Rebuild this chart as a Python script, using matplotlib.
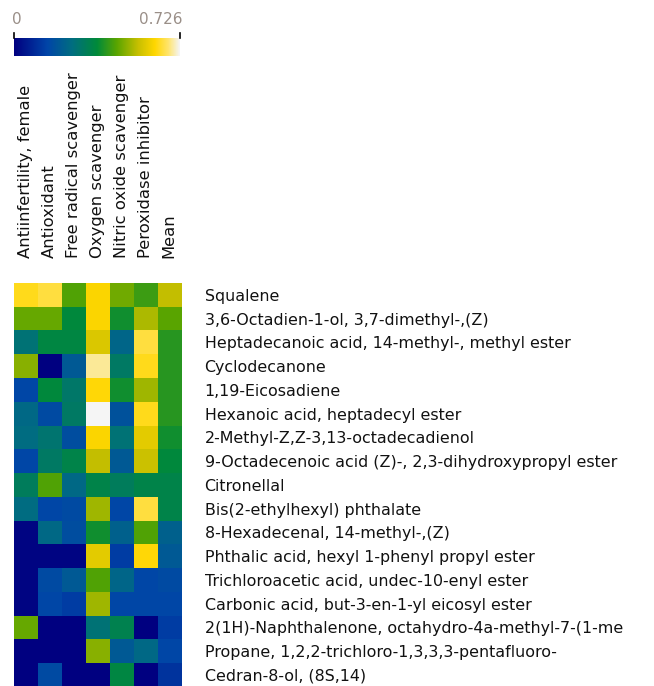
import numpy as np
import matplotlib
matplotlib.use("Agg")
import matplotlib.pyplot as plt
from matplotlib.colors import LinearSegmentedColormap

activities = [
    "Antiinfertility, female",
    "Antioxidant",
    "Free radical scavenger",
    "Oxygen scavenger",
    "Nitric oxide scavenger",
    "Peroxidase inhibitor",
    "Mean",
]

compounds = [
    "Squalene",
    "3,6-Octadien-1-ol, 3,7-dimethyl-,(Z)",
    "Heptadecanoic acid, 14-methyl-, methyl ester",
    "Cyclodecanone",
    "1,19-Eicosadiene",
    "Hexanoic acid, heptadecyl ester",
    "2-Methyl-Z,Z-3,13-octadecadienol",
    "9-Octadecenoic acid (Z)-, 2,3-dihydroxypropyl ester",
    "Citronellal",
    "Bis(2-ethylhexyl) phthalate",
    "8-Hexadecenal, 14-methyl-,(Z)",
    "Phthalic acid, hexyl 1-phenyl propyl ester",
    "Trichloroacetic acid, undec-10-enyl ester",
    "Carbonic acid, but-3-en-1-yl eicosyl ester",
    "2(1H)-Naphthalenone, octahydro-4a-methyl-7-(1-me",
    "Propane, 1,2,2-trichloro-1,3,3,3-pentafluoro-",
    "Cedran-8-ol, (8S,14)",
]

# Predicted activity scores, one list per compound (columns follow `activities`)
squalene        = [0.63, 0.65, 0.44, 0.61, 0.47, 0.42, 0.54]
octadienol      = [0.46, 0.46, 0.36, 0.61, 0.38, 0.52, 0.45]
heptadecanoic   = [0.27, 0.35, 0.35, 0.57, 0.23, 0.65, 0.40]
cyclodecanone   = [0.49, 0.00, 0.20, 0.69, 0.30, 0.63, 0.40]
eicosadiene     = [0.15, 0.36, 0.29, 0.62, 0.38, 0.51, 0.40]
hexanoic        = [0.24, 0.16, 0.30, 0.726, 0.18, 0.63, 0.40]
octadecadienol  = [0.25, 0.28, 0.17, 0.61, 0.27, 0.58, 0.38]
octadecenoic    = [0.15, 0.30, 0.34, 0.54, 0.20, 0.55, 0.36]
citronellal     = [0.31, 0.44, 0.24, 0.34, 0.31, 0.34, 0.34]
phthalate       = [0.25, 0.15, 0.16, 0.51, 0.15, 0.65, 0.34]
hexadecenal     = [0.01, 0.24, 0.17, 0.38, 0.22, 0.44, 0.22]
phthalic        = [0.01, 0.01, 0.01, 0.58, 0.13, 0.62, 0.20]
trichloroacetic = [0.01, 0.16, 0.20, 0.44, 0.23, 0.15, 0.16]
carbonic        = [0.01, 0.15, 0.13, 0.51, 0.15, 0.15, 0.15]
naphthalenone   = [0.46, 0.00, 0.00, 0.27, 0.33, 0.00, 0.13]
propane         = [0.00, 0.00, 0.00, 0.49, 0.20, 0.24, 0.15]
cedranol        = [0.00, 0.16, 0.00, 0.00, 0.35, 0.00, 0.11]

vmin, vmax = 0.0, 0.726

data = np.array([
    squalene, octadienol, heptadecanoic, cyclodecanone, eicosadiene,
    hexanoic, octadecadienol, octadecenoic, citronellal, phthalate,
    hexadecenal, phthalic, trichloroacetic, carbonic, naphthalenone,
    propane, cedranol,
])

cmap = LinearSegmentedColormap.from_list("navy_green_gold", [
    (0.00, "#000080"),
    (0.20, "#0045a8"),
    (0.35, "#006e80"),
    (0.50, "#008a3a"),
    (0.62, "#5aa500"),
    (0.75, "#c8c000"),
    (0.85, "#ffd700"),
    (0.93, "#ffe46a"),
    (1.00, "#f5f5f5"),
])

W, H = 654, 686
fig = plt.figure(figsize=(W / 100, H / 100), dpi=100)

def frac_box(x0, y0, x1, y1):
    return [x0 / W, 1 - y1 / H, (x1 - x0) / W, (y1 - y0) / H]

# Heatmap
ax = fig.add_axes(frac_box(14, 283, 181, 283 + 23.75 * len(compounds)))
ax.imshow(data, cmap=cmap, vmin=vmin, vmax=vmax, aspect="auto",
          interpolation="nearest")
for s in ax.spines.values():
    s.set_visible(False)
ax.set_xticks(np.arange(len(activities)))
ax.set_xticklabels(activities, rotation=90, fontsize=11.8, color="#111111")
ax.xaxis.tick_top()
ax.tick_params(axis="x", length=0, pad=18)
ax.set_yticks(np.arange(len(compounds)))
ax.set_yticklabels(compounds, fontsize=11.4, color="#111111")
ax.yaxis.tick_right()
ax.tick_params(axis="y", length=0, pad=17)
for lbl in ax.get_yticklabels():
    lbl.set_horizontalalignment("left")

# Colour scale
cax = fig.add_axes(frac_box(14, 38, 180, 56))
grad = np.linspace(vmin, vmax, 256)[None, :]
cax.imshow(grad, cmap=cmap, vmin=vmin, vmax=vmax, aspect="auto",
           extent=[vmin, vmax, 0, 1])
cax.set_axis_off()
for xpix in (14, 180):
    fig.add_artist(plt.Line2D([xpix / W] * 2, [1 - 33 / H, 1 - 38 / H],
                              color="black", lw=1.2))
fig.text(12 / W, 1 - 20 / H, f"{vmin:g}", fontsize=11, color="#9a8f88",
         ha="left", va="center")
fig.text(183 / W, 1 - 20 / H, f"{vmax:g}", fontsize=11, color="#9a8f88",
         ha="right", va="center")

fig.savefig("out.png", dpi=100)
